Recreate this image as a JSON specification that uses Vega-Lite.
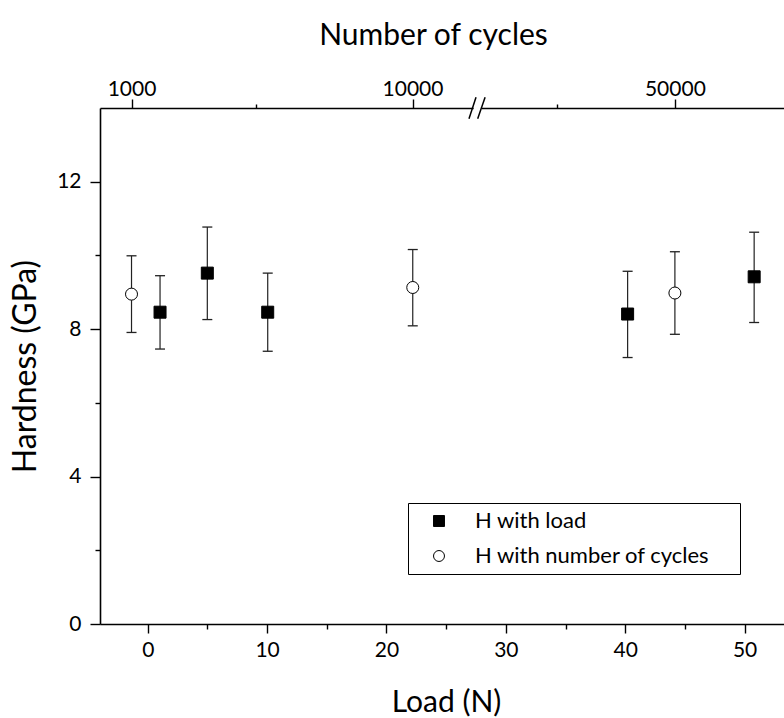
{
  "$schema": "https://vega.github.io/schema/vega-lite/v6.json",
  "width": 684,
  "height": 516,
  "autosize": {"type": "none"},
  "padding": {"left": 100, "top": 108, "right": 0, "bottom": 94},
  "background": "white",
  "config": {
    "view": {"stroke": null},
    "font": "Lato",
    "axis": {
      "grid": false,
      "domainColor": "black",
      "domainWidth": 1.6,
      "tickColor": "black",
      "tickWidth": 1.4,
      "labelColor": "black",
      "labelFont": "Lato",
      "labelFontSize": 21,
      "titleColor": "black",
      "titleFont": "Lato",
      "titleFontSize": 30,
      "titleFontWeight": "normal"
    },
    "legend": {
      "orient": "none",
      "legendX": 308,
      "legendY": 395,
      "title": null,
      "strokeColor": "black",
      "fillColor": "white",
      "padding": 7,
      "symbolOffset": 13,
      "symbolSize": 120,
      "symbolStrokeColor": "black",
      "symbolStrokeWidth": 1,
      "labelFont": "Lato",
      "labelFontSize": 22,
      "labelColor": "black",
      "labelOffset": 25,
      "labelLimit": 500,
      "rowPadding": 13
    }
  },
  "datasets": {
    "points": [
      {"series": "H with load", "x": 1.03, "h": 8.46, "lo": 7.46, "hi": 9.45},
      {"series": "H with load", "x": 4.99, "h": 9.52, "lo": 8.26, "hi": 10.77},
      {"series": "H with load", "x": 10.05, "h": 8.46, "lo": 7.4, "hi": 9.52},
      {"series": "H with load", "x": 40.2, "h": 8.41, "lo": 7.23, "hi": 9.57},
      {"series": "H with load", "x": 50.8, "h": 9.42, "lo": 8.18, "hi": 10.63},
      {"series": "H with number of cycles", "x": -1.36, "h": 8.95, "lo": 7.91, "hi": 9.99},
      {"series": "H with number of cycles", "x": 22.2, "h": 9.13, "lo": 8.09, "hi": 10.16},
      {"series": "H with number of cycles", "x": 44.16, "h": 8.98, "lo": 7.86, "hi": 10.1}
    ],
    "gap": [
      {"gx1": 27.3, "gx2": 28.0, "gy": 14}
    ],
    "slashes": [
      {"sx1": 26.91, "sx2": 27.5, "sy1": 13.71, "sy2": 14.29},
      {"sx1": 27.64, "sx2": 28.26, "sy1": 13.71, "sy2": 14.29}
    ]
  },
  "layer": [
    {
      "data": {"name": "points"},
      "mark": {"type": "rule", "color": "#222222", "strokeWidth": 1.2},
      "encoding": {
        "x": {
          "field": "x",
          "type": "quantitative",
          "scale": {"domain": [-4, 53.3], "nice": false, "zero": false},
          "axis": {
            "orient": "bottom",
            "values": [0, 5, 10, 15, 20, 25, 30, 35, 40, 45, 50],
            "labelExpr": "datum.value % 10 === 0 ? datum.label : ''",
            "tickSize": {"condition": {"test": "datum.value % 10 === 0", "value": 9}, "value": 5},
            "labelPadding": 6,
            "title": "Load (N)",
            "titlePadding": 27,
            "titleX": 346
          }
        },
        "y": {
          "field": "lo",
          "type": "quantitative",
          "scale": {"domain": [0, 14], "nice": false, "zero": true},
          "axis": {
            "values": [0, 2, 4, 6, 8, 10, 12],
            "labelExpr": "datum.value % 4 === 0 ? datum.label : ''",
            "tickSize": {"condition": {"test": "datum.value % 4 === 0", "value": 10}, "value": 5},
            "labelPadding": 9,
            "title": "Hardness (GPa)",
            "titleFontSize": 32,
            "titlePadding": 14
          }
        },
        "y2": {"field": "hi"}
      }
    },
    {
      "data": {"name": "points"},
      "mark": {"type": "tick", "orient": "horizontal", "size": 10, "thickness": 1.3, "color": "#222222", "opacity": 1},
      "encoding": {
        "x": {"field": "x", "type": "quantitative", "axis": null},
        "y": {"field": "lo", "type": "quantitative"}
      }
    },
    {
      "data": {"name": "points"},
      "mark": {"type": "tick", "orient": "horizontal", "size": 10, "thickness": 1.3, "color": "#222222", "opacity": 1},
      "encoding": {
        "x": {"field": "x", "type": "quantitative", "axis": null},
        "y": {"field": "hi", "type": "quantitative"}
      }
    },
    {
      "data": {"name": "points"},
      "mark": {"type": "point", "size": 144, "strokeWidth": 1, "opacity": 1, "fillOpacity": 1, "strokeOpacity": 1},
      "encoding": {
        "x": {
          "field": "x",
          "type": "quantitative",
          "axis": {
            "orient": "top",
            "values": [-1.36, 9.07, 22.18, 34.3, 44.16],
            "labelExpr": "datum.value < 0 ? '1000' : datum.value < 15 ? '' : datum.value < 30 ? '10000' : datum.value < 40 ? '' : '50000'",
            "tickSize": {"condition": {"test": "datum.value < 0 || (datum.value > 15 && datum.value < 30) || datum.value > 40", "value": 9}, "value": 4},
            "labelPadding": 0,
            "title": "Number of cycles",
            "titlePadding": 28,
            "titleX": 333
          }
        },
        "y": {"field": "h", "type": "quantitative"},
        "shape": {
          "field": "series",
          "type": "nominal",
          "scale": {"domain": ["H with load", "H with number of cycles"], "range": ["square", "circle"]},
          "legend": {"labelExpr": "datum.label + '    \u200b'"}
        },
        "fill": {
          "field": "series",
          "type": "nominal",
          "scale": {"domain": ["H with load", "H with number of cycles"], "range": ["black", "white"]},
          "legend": {"labelExpr": "datum.label + '    \u200b'"}
        },
        "stroke": {
          "field": "series",
          "type": "nominal",
          "scale": {"domain": ["H with load", "H with number of cycles"], "range": ["black", "black"]},
          "legend": {"labelExpr": "datum.label + '    \u200b'"}
        }
      }
    },
    {
      "data": {"name": "gap"},
      "mark": {"type": "rule", "color": "white", "strokeWidth": 5},
      "encoding": {
        "x": {"field": "gx1", "type": "quantitative", "axis": null},
        "x2": {"field": "gx2"},
        "y": {"field": "gy", "type": "quantitative"}
      }
    },
    {
      "data": {"name": "slashes"},
      "mark": {"type": "rule", "color": "black", "strokeWidth": 1.5},
      "encoding": {
        "x": {"field": "sx1", "type": "quantitative", "axis": null},
        "x2": {"field": "sx2"},
        "y": {"field": "sy1", "type": "quantitative"},
        "y2": {"field": "sy2"}
      }
    }
  ],
  "resolve": {"axis": {"x": "independent"}}
}
